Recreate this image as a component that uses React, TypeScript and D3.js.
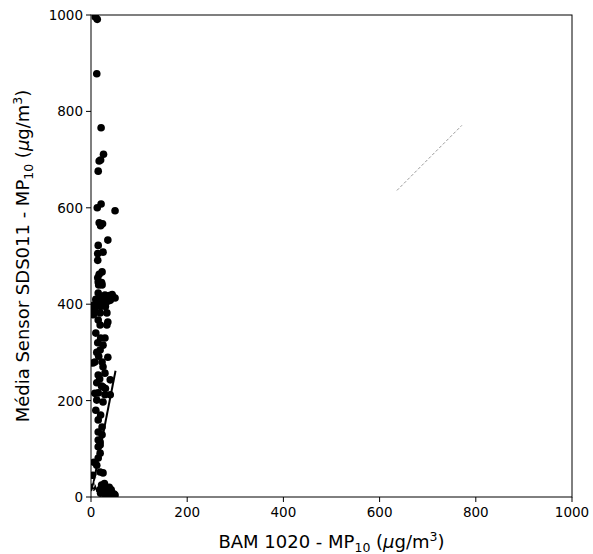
import React from "react";
import * as d3 from "d3";

const xTicks = [0, 200, 400, 600, 800, 1000];
const yTicks = [0, 200, 400, 600, 800, 1000];

const bamValues = [
  9, 13, 12, 21, 26, 20, 17, 15,
  21, 13, 50, 17, 24, 20, 35, 15, 25, 14, 14, 23, 17, 14, 22, 16,
  15, 23, 15, 23, 29, 46, 50, 12, 25, 8, 19, 33, 15, 35, 19, 33,
  3, 5, 2, 29, 25, 19, 35, 8, 23, 4, 25, 15, 29, 40, 12, 25, 15, 29, 40, 12, 25,
  15, 23, 15, 23, 15, 19, 19, 15, 19, 15, 12, 19, 25, 6, 4, 3,
  22, 27, 30, 33, 36, 40, 44, 48, 50, 25, 30, 35, 20, 42, 38, 28, 45, 18,
  10, 18, 27, 33, 40, 44, 6, 20, 30, 38,
  10, 14, 20, 12, 16, 10, 20, 8, 18, 22, 30,
];
const sensorValues = [
  996, 991, 878, 766, 711, 699, 697, 676,
  608, 600, 594, 569, 567, 563, 533, 522, 508, 505, 491, 467, 462, 455, 445, 440,
  446, 440, 423, 415, 419, 415, 413, 402, 402, 388, 382, 382, 367, 363, 357, 357,
  385, 378, 395, 330, 315, 305, 290, 280, 280, 278, 270, 253, 257, 243, 237, 228, 216, 212, 212, 201, 197,
  160, 145, 135, 129, 118, 108, 114, 104, 91, 81, 66, 52, 50, 72, 45, 20,
  25, 22, 18, 15, 12, 10, 8, 6, 4, 10, 5, 3, 8, 15, 20, 28, 2, 15,
  410, 408, 412, 405, 408, 420, 398, 395, 395, 418,
  340, 320, 330, 300, 292, 180, 170, 215, 245, 230, 225,
];

const regressionX = [2, 51];
const regressionY = [13, 262];
const identityX = [636, 771];
const identityY = [636, 771];
const originDashX = [0, 12];
const originDashY = [0, 45];

export default function App() {
  const W = 593, H = 554;
  const L = 91, R = 572, T = 15, B = 497;
  const x = d3.scaleLinear().domain([0, 1000]).range([L, R]);
  const y = d3.scaleLinear().domain([0, 1000]).range([B, T]);
  const line = d3.line<[number, number]>().x((d) => x(d[0])).y((d) => y(d[1]));
  const pts = bamValues.map((v, i) => [v, sensorValues[i]] as [number, number]);
  const font = "DejaVu Sans, sans-serif";

  return (
    <svg width={W} height={H} style={{ position: "absolute", left: 0, top: 0, background: "#fff" }} fontFamily={font}>
      <defs>
        <clipPath id="plot">
          <rect x={L} y={T} width={R - L} height={B - T} />
        </clipPath>
      </defs>
      <g clipPath="url(#plot)">
        {pts.map((p, i) => (
          <circle key={i} cx={x(p[0])} cy={y(p[1])} r={3.8} fill="#000" />
        ))}
        <path d={line(regressionX.map((v, i) => [v, regressionY[i]]) as any) || ""} stroke="#000" strokeWidth={2} fill="none" />
        <path d={line(originDashX.map((v, i) => [v, originDashY[i]]) as any) || ""} stroke="#fff" strokeWidth={1} strokeDasharray="3,2" fill="none" />
        <path d={line(identityX.map((v, i) => [v, identityY[i]]) as any) || ""} stroke="#999" strokeWidth={1} strokeDasharray="3,2" fill="none" />
      </g>
      <rect x={L} y={T} width={R - L} height={B - T} fill="none" stroke="#000" strokeWidth={1} />
      {xTicks.map((t) => (
        <g key={"x" + t}>
          <line x1={x(t)} x2={x(t)} y1={B} y2={B + 5} stroke="#000" />
          <text x={x(t)} y={B + 20} fontSize={13.5} textAnchor="middle">{t}</text>
        </g>
      ))}
      {yTicks.map((t) => (
        <g key={"y" + t}>
          <line x1={L - 5} x2={L} y1={y(t)} y2={y(t)} stroke="#000" />
          <text x={L - 8} y={y(t) + 5} fontSize={13.5} textAnchor="end">{t}</text>
        </g>
      ))}
      <text x={(L + R) / 2} y={548} fontSize={18} textAnchor="middle">
        BAM 1020 - MP<tspan fontSize={12.5} dy={4}>10</tspan>
        <tspan dy={-4}> (</tspan><tspan fontStyle="italic">μ</tspan>g/m<tspan fontSize={12.5} dy={-7}>3</tspan><tspan dy={7}>)</tspan>
      </text>
      <text transform={`translate(29,${(T + B) / 2}) rotate(-90)`} fontSize={18} textAnchor="middle">
        Média Sensor SDS011 - MP<tspan fontSize={12.5} dy={4}>10</tspan>
        <tspan dy={-4}> (</tspan><tspan fontStyle="italic">μ</tspan>g/m<tspan fontSize={12.5} dy={-7}>3</tspan><tspan dy={7}>)</tspan>
      </text>
    </svg>
  );
}
